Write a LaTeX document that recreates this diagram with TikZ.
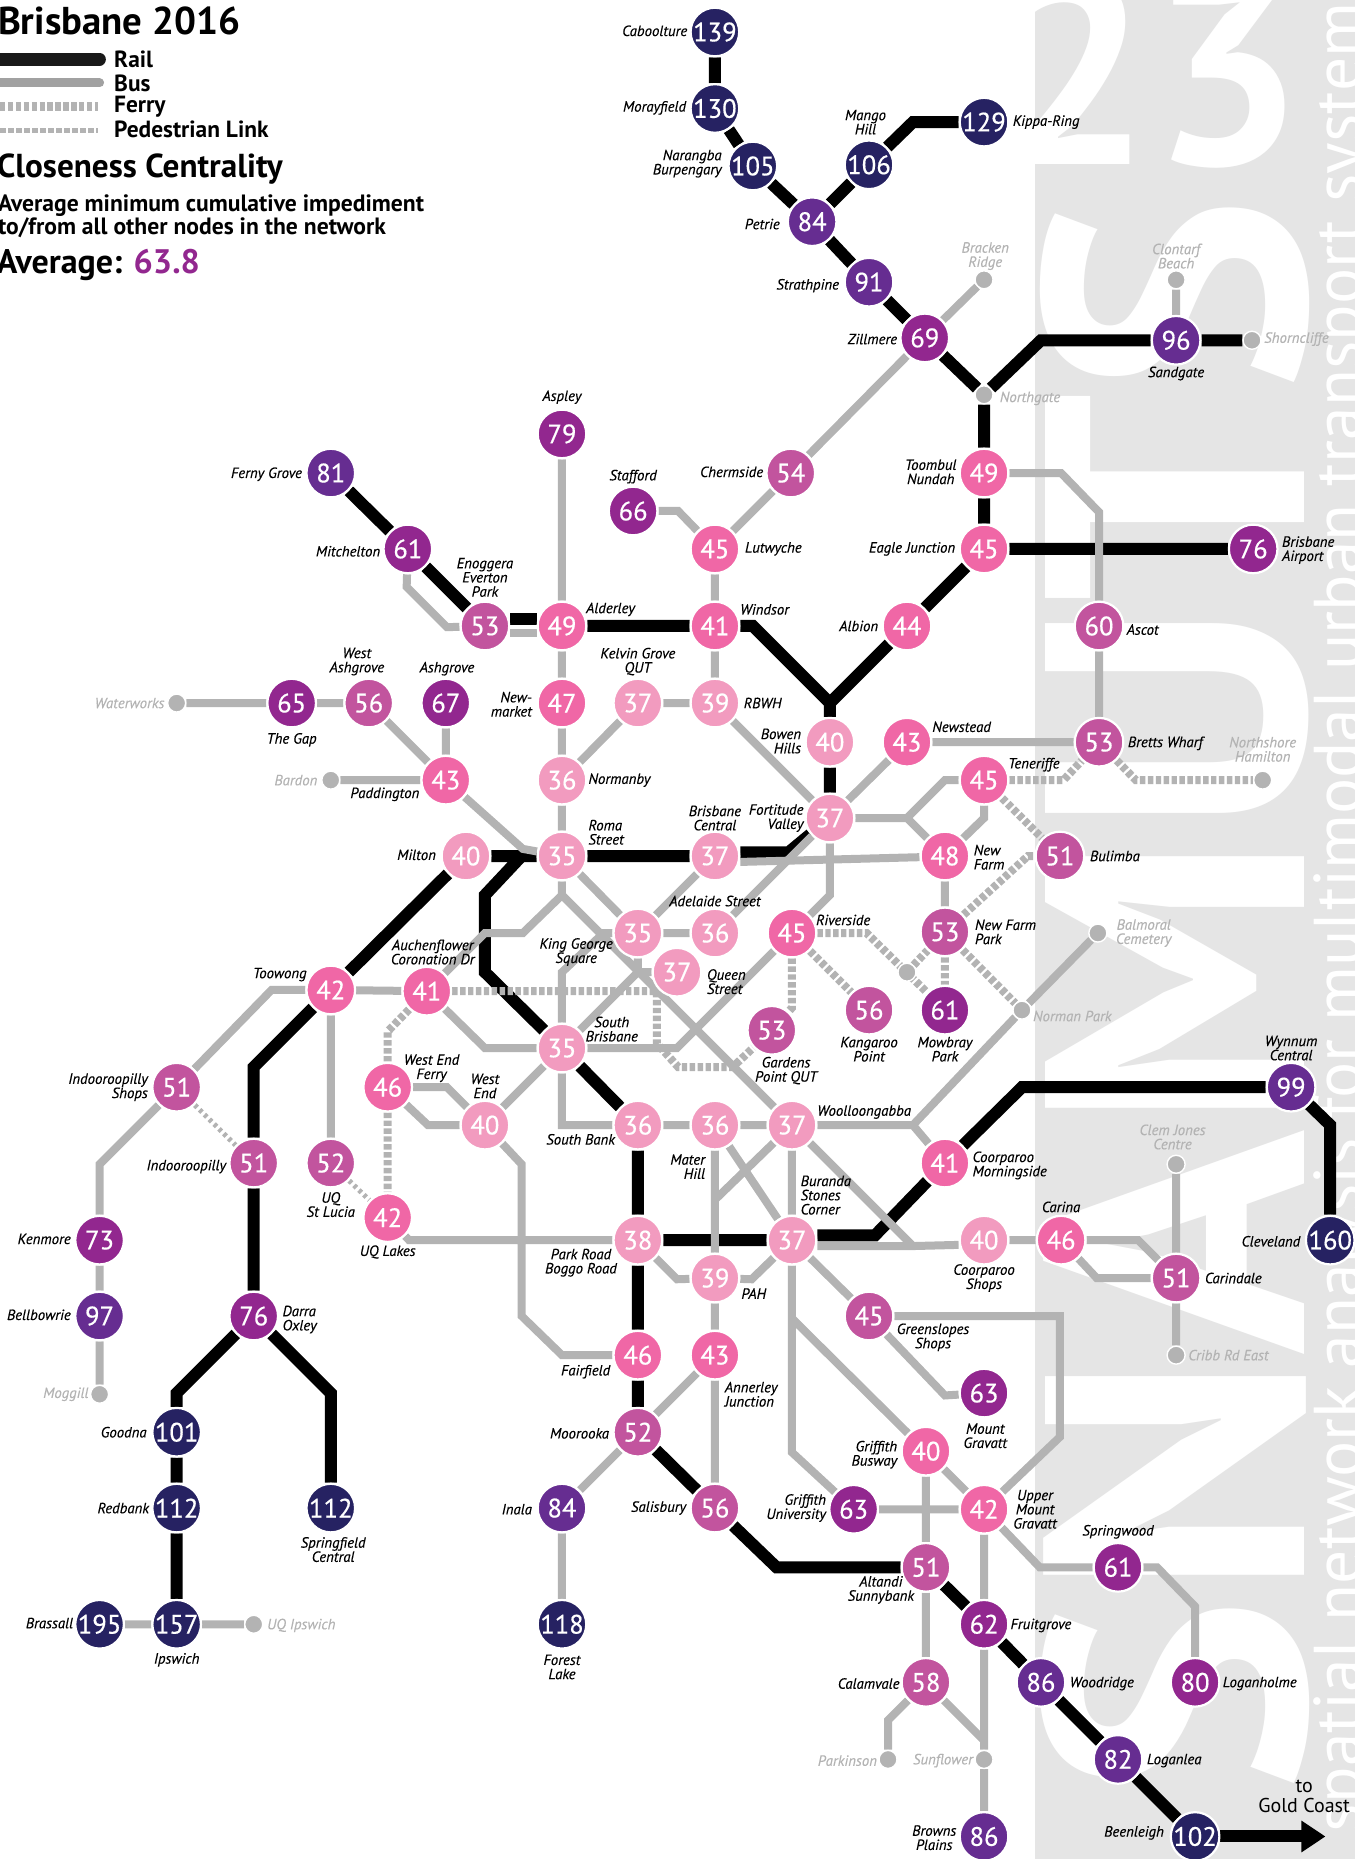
\documentclass[tikz,border=0pt]{standalone}
\usepackage{fontspec}
\setmainfont{PT Sans}
\newfontfamily\semif{PT Sans}[FakeBold=0.5]
\newfontfamily\lblf{PT Sans Italic}[FakeBold=0.2]
\usetikzlibrary{arrows.meta}
\definecolor{cL}{HTML}{F29BBF}
\definecolor{cH}{HTML}{F067A6}
\definecolor{cM}{HTML}{C2549E}
\definecolor{cP}{HTML}{92278F}
\definecolor{cV}{HTML}{662D91}
\definecolor{cD}{HTML}{262262}
\definecolor{busg}{HTML}{B3B3B3}
\definecolor{panel}{HTML}{E5E5E5}
\definecolor{avg}{HTML}{92278F}
\pgfdeclarelayer{backlay}\pgfdeclarelayer{raillay}\pgfdeclarelayer{buslay}\pgfdeclarelayer{ferrylay}
\pgfsetlayers{backlay,raillay,buslay,ferrylay,main}
\tikzset{
 stn/.style={circle,minimum size=24.3pt,inner sep=0pt,draw=white,line width=1.1pt,text=white,font=\fontsize{13.3}{12}\semif},
 stopdot/.style={circle,minimum size=9pt,inner sep=0pt,draw=white,line width=.7pt,fill=busg},
 lbl/.style={inner sep=0pt,font=\fontsize{7.4}{7.1}\lblf,align=center,text=black},
 ghost/.style={lbl,text=busg},
 leg/.style={inner sep=0pt,anchor=west,font=\fontsize{11.7}{10}\selectfont\bfseries},
 railln/.style={draw=black,line width=6pt},
 busln/.style={draw=busg,line width=4pt},
 ferryln/.style={draw=busg,line width=4pt,dash pattern=on 2.7pt off 1.25pt},
 pedln/.style={draw=busg,line width=2.5pt,dash pattern=on 1.7pt off 1.7pt},
}
\newcount\lbn
\newcommand{\lb}[4]{\global\advance\lbn by 1 \node[lbl,anchor=#1] (lb\the\lbn) at (#2,#3) {#4};}
\newcommand{\gh}[4]{\global\advance\lbn by 1 \node[ghost,anchor=#1] (lb\the\lbn) at (#2,#3) {#4};}
\newcommand{\stnn}[5]{\node[stn,fill=c#5] (#1) at (#2,#3) {#4};}
\newcommand{\mstop}[3]{\node[stopdot] (#1) at (#2,#3) {};}
\begin{document}
\begin{tikzpicture}[x=0.59275pt,y=-0.59275pt]
\useasboundingbox (0,0) rectangle (1143,1568);
% background panel
\begin{pgfonlayer}{backlay}
\fill[panel] (873,0) rectangle (1143,1568);
\node[inner sep=0pt,rotate=90,anchor=base east,text=white,font=\fontsize{185}{185}\selectfont\bfseries] (bigname) at (1100,165) {SNAMUTS};
\node[inner sep=0pt,anchor=base east,text=white,font=\fontsize{135}{135}\selectfont\bfseries] (bignum) at (1100,139) {23};
\node[inner sep=0pt,rotate=90,anchor=base east,text=white,font=\fontsize{33.8}{33.8}\selectfont] (strap) at (1148,-22) {spatial network analysis for multimodal urban transport systems};
\end{pgfonlayer}
% stations
\stnn{cab}{603}{27}{139}{D}
\stnn{mor}{603}{91.5}{130}{D}
\stnn{nar}{635}{140}{105}{D}
\stnn{man}{733}{139}{106}{D}
\stnn{kip}{830}{103}{129}{D}
\stnn{pet}{685}{187}{84}{V}
\stnn{str}{733}{238}{91}{V}
\stnn{zil}{780}{285}{69}{P}
\stnn{san}{992}{287}{96}{V}
\stnn{toom}{830}{399}{49}{H}
\stnn{eag}{830}{463}{45}{H}
\stnn{air}{1057}{463}{76}{P}
\stnn{asc}{927}{528}{60}{M}
\stnn{alb}{765}{528}{44}{H}
\stnn{cher}{667}{399}{54}{M}
\stnn{lut}{603}{463}{45}{H}
\stnn{sta}{534}{431}{66}{P}
\stnn{asp}{474}{366}{79}{P}
\stnn{fer}{279}{399}{81}{V}
\stnn{mit}{344}{463}{61}{P}
\stnn{eno}{409}{528}{53}{M}
\stnn{ald}{474}{528}{49}{H}
\stnn{win}{603}{528}{41}{H}
\stnn{nwm}{474}{593}{47}{H}
\stnn{kel}{538}{593}{37}{L}
\stnn{rbw}{603}{593}{39}{L}
\stnn{gap}{246}{593}{65}{P}
\stnn{wash}{311}{593}{56}{M}
\stnn{ash}{376}{593}{67}{P}
\stnn{pad}{376}{658}{43}{H}
\stnn{nor}{474}{658}{36}{L}
\stnn{bow}{700}{626}{40}{L}
\stnn{nws}{765}{626}{43}{H}
\stnn{bre}{927}{626}{53}{M}
\stnn{ten}{830}{658}{45}{H}
\stnn{fort}{700}{690}{37}{L}
\stnn{mil}{393}{722}{40}{L}
\stnn{rom}{474}{722}{35}{L}
\stnn{bri}{603}{722}{37}{L}
\stnn{nfm}{797}{722}{48}{H}
\stnn{bul}{894}{722}{51}{M}
\stnn{ade}{538}{787}{35}{L}
\stnn{adb}{603}{787}{36}{L}
\stnn{riv}{668}{787}{45}{H}
\stnn{nfp}{797}{786}{53}{M}
\stnn{que}{571}{820}{37}{L}
\stnn{kan}{733}{852}{56}{M}
\stnn{mow}{797}{852}{61}{P}
\stnn{too}{279}{835}{42}{H}
\stnn{auc}{360}{836}{41}{H}
\stnn{gar}{651}{869}{53}{M}
\stnn{sbr}{474}{884}{35}{L}
\stnn{ins}{149}{917}{51}{M}
\stnn{wef}{327}{917}{46}{H}
\stnn{wen}{409}{949}{40}{L}
\stnn{sba}{538}{949}{36}{L}
\stnn{mat}{603}{949}{36}{L}
\stnn{woo}{668}{949}{37}{L}
\stnn{wyn}{1089}{917}{99}{V}
\stnn{coo}{797}{981}{41}{H}
\stnn{ind}{214}{981}{51}{M}
\stnn{stl}{279}{981}{52}{M}
\stnn{uql}{327}{1027}{42}{H}
\stnn{ken}{84}{1046}{73}{P}
\stnn{par}{538}{1046}{38}{L}
\stnn{bur}{668}{1046}{37}{L}
\stnn{csh}{830}{1046}{40}{L}
\stnn{car}{895}{1046}{46}{H}
\stnn{cle}{1122}{1046}{160}{D}
\stnn{crd}{992}{1078}{51}{M}
\stnn{bel}{84}{1110}{97}{V}
\stnn{dar}{214}{1110}{76}{P}
\stnn{pah}{603}{1078}{39}{L}
\stnn{gre}{733}{1110}{45}{M}
\stnn{fai}{538}{1143}{46}{H}
\stnn{ann}{603}{1143}{43}{H}
\stnn{mgr}{830}{1175}{63}{P}
\stnn{moo}{538}{1208}{52}{M}
\stnn{gob}{781}{1224}{40}{H}
\stnn{goo}{149}{1208}{101}{D}
\stnn{red}{149}{1272}{112}{D}
\stnn{spc}{279}{1272}{112}{D}
\stnn{ina}{474}{1272}{84}{V}
\stnn{sal}{603}{1272}{56}{M}
\stnn{gun}{720}{1273}{63}{P}
\stnn{umg}{830}{1273}{42}{H}
\stnn{spr}{943}{1322}{61}{P}
\stnn{alt}{781}{1322}{51}{M}
\stnn{fru}{830}{1370}{62}{P}
\stnn{ips}{149}{1370}{157}{D}
\stnn{bra}{84}{1370}{195}{D}
\stnn{fol}{474}{1370}{118}{D}
\stnn{cal}{781}{1419}{58}{M}
\stnn{wod}{878}{1419}{86}{V}
\stnn{lgh}{1008}{1419}{80}{P}
\stnn{lga}{943}{1484}{82}{V}
\stnn{bro}{830}{1549}{86}{V}
\stnn{bee}{1008}{1549}{102}{D}
% minor stops
\mstop{sbrk}{830}{236}
\mstop{sclo}{992}{236}
\mstop{snrg}{830}{333}
\mstop{ssho}{1056}{287}
\mstop{swat}{149}{593}
\mstop{sbar}{279}{658}
\mstop{sbal}{926}{787}
\mstop{snpk}{862}{852}
\mstop{snth}{1065}{658}
\mstop{scle}{992}{982}
\mstop{scri}{992}{1143}
\mstop{smog}{84}{1176}
\mstop{suqi}{214}{1370}
\mstop{spkn}{749}{1484}
\mstop{ssun}{830}{1484}
\mstop{srvj}{765}{820}
% rail
\begin{pgfonlayer}{raillay}
\path[railln] (cab)--(mor) (mor)--(nar) (nar)--(pet) (pet)--(man) (man)--(770,103)--(kip)
 (pet)--(str) (str)--(zil) (zil)--(snrg) (snrg)--(878,287)--(san) (san)--(ssho) (snrg)--(toom) (toom)--(eag) (eag)--(air) (eag)--(alb)
 (alb)--(700,593) (win)--(635,528)--(700,593)--(bow) (bow)--(fort) (rom)--(bri)
 (rom)--(mil) (rom)--(440,722)--(409,755)--(409,820)--(sbr) (mil)--(too) (too)--(214,900)--(ind) (ind)--(dar)
 (dar)--(149,1175)--(goo) (goo)--(red) (red)--(ips) (dar)--(279,1175)--(spc)
 (ald)--(win) (fer)--(mit) (mit)--(eno)
 (sbr)--(sba) (sba)--(par) (par)--(bur) (coo)--(862,917)--(wyn) (wyn)--(1122,949)--(cle)
 (par)--(fai) (fai)--(moo) (moo)--(sal) (sal)--(655,1322)--(alt) (alt)--(fru) (fru)--(wod) (wod)--(lga) (lga)--(bee);
\draw[railln] (eno.east |- 0,522)--(ald.west |- 0,522);
\draw[railln] (bri.east |- 0,719)--(665,719)--(fort);
\draw[railln] (bur.east |- 0,1042)--(738,1042)--(coo);
\coordinate (arrowend) at (1118,1549);
\draw[draw=black,line width=6pt,-{Triangle[length=12pt,width=15pt]}] (bee)--(arrowend);
\end{pgfonlayer}
% bus
\begin{pgfonlayer}{buslay}
\path[busln] (zil)--(sbrk) (zil)--(cher) (cher)--(lut) (lut)--(win) (sta)--(572,431)--(lut) (win)--(rbw) (rbw)--(kel) (kel)--(nor)
 (asp)--(ald) (ald)--(nwm) (nwm)--(nor) (nor)--(rom) (mit)--(343,495)--(377,529)--(eno)
 (toom)--(895,399)--(927,432)--(asc) (asc)--(bre) (bre)--(nws) (nws)--(fort) (fort)--(765,690)--(797,658)--(ten) (765,690)--(nfm) (ten)--(830,690)--(nfm)
 (fort)--(adb) (adb)--(ade) (bri)--(ade) (fort)--(700,755)--(riv) (rbw)--(fort)
 (pad)--(441,716)--(rom) (rom)--(ade) (rom)--(474,755)--(441,787)--(409,787)--(auc) (474,755)--(woo)
 (ade)--(509,787)--(474,820)--(sbr) (sbr)--(538,820)--(que) (538,820)--(ade) (sbr)--(571,884)--(riv)
 (auc)--(409,884)--(sbr) (too)--(auc) (too)--(229,835)--(ins) (ins)--(84,982)--(ken) (ken)--(bel) (bel)--(smog) (too)--(stl)
 (uql)--(345,1046)--(par) (wef)--(377,917)--(wen) (wef)--(361,949)--(wen) (sbr)--(wen) (sbr)--(474,949)--(sba)
 (wen)--(440,982)--(440,1110)--(474,1143)--(fai) (sba)--(mat) (mat)--(woo) (woo)--(bur) (woo)--(770,1051)
 (csh)--(car) (car)--(960,1046)--(crd) (car)--(925,1078)--(crd) (crd)--(scle) (crd)--(scri)
 (mat)--(pah) (woo)--(603,1012) (mat)--(bur) (par)--(571,1079)--(pah) (bur)--(634,1079)--(pah) (pah)--(ann) (ann)--(moo) (ann)--(sal) (moo)--(ina) (ina)--(fol)
 (bur)--(gre) (gre)--(797,1177)--(mgr) (gre)--(894,1110)--(894,1212)--(umg) (bur)--(668,1225)--(gun) (668,1112)--(gob)
 (gun)--(umg) (gob)--(umg) (gob)--(alt) (umg)--(fru) (umg)--(877,1322)--(spr) (spr)--(976,1322)--(1008,1355)--(lgh) (alt)--(cal) (cal)--(830,1468)--(ssun) (fru)--(ssun) (ssun)--(bro) (cal)--(749,1451)--(spkn)
 (ips)--(bra) (ips)--(suqi) (wash)--(gap) (gap)--(swat) (wash)--(pad) (ash)--(pad) (pad)--(sbar) (nfm)--(nfp)
 (woo)--(770,949)--(snpk) (770,949)--(coo) (snpk)--(sbal) (san)--(sclo);
\draw[busln] (eno.east |- 0,534)--(ald.west |- 0,534);
\draw[busln] (bri.east |- 0,727)--(nfm.west |- 0,723);
\draw[busln] (bur.east |- 0,1051)--(770,1051)--(csh.west |- 0,1050);
\end{pgfonlayer}
% ferry
\begin{pgfonlayer}{ferrylay}
\path[ferryln] (auc)--(554,836)--(554,880)--(572,900)--(618,900)--(gar) (auc)--(327,870)--(wef) (wef)--(uql)
 (riv)--(731,787)--(mow) (srvj)--(nfp) (riv)--(kan) (riv)--(668,850)--(gar) (nfp)--(mow) (nfp)--(snpk) (nfp)--(867,722)--(bul) (ten)--(bul)
 (ten)--(897,658)--(bre) (bre)--(958,658)--(snth);
\path[pedln] (ins)--(ind) (stl)--(uql);
\end{pgfonlayer}
% labels
\lb{east}{580}{26}{Caboolture}
\lb{east}{579}{91}{Morayfield}
\node[lbl,anchor=east,align=right] (l1) at (609,138) {Narangba\\Burpengary};
\lb{center}{730}{103}{Mango\\Hill}
\lb{west}{854}{103}{Kippa-Ring}
\lb{east}{658}{189}{Petrie}
\lb{east}{708}{241}{Strathpine}
\gh{center}{831}{216}{Bracken\\Ridge}
\gh{center}{992}{216}{Clontarf\\Beach}
\lb{east}{757}{286}{Zillmere}
\gh{west}{1066}{286}{Shorncliffe}
\lb{center}{992}{315}{Sandgate}
\gh{west}{843}{336}{Northgate}
\lb{center}{474}{335}{Aspley}
\lb{center}{534}{402}{Stafford}
\lb{east}{644}{398}{Chermside}
\lb{center}{785}{398}{Toombul\\Nundah}
\lb{east}{255}{400}{Ferny Grove}
\lb{east}{321}{465}{Mitchelton}
\lb{west}{628}{463}{Lutwyche}
\lb{east}{806}{463}{Eagle Junction}
\node[lbl,anchor=west,align=left] (l2) at (1081,464) {Brisbane\\Airport};
\lb{center}{409}{487}{Enoggera\\Everton\\Park}
\lb{west}{494}{514}{Alderley}
\lb{west}{624}{514}{Windsor}
\lb{east}{741}{528}{Albion}
\lb{west}{950}{531}{Ascot}
\lb{center}{538}{558}{Kelvin Grove\\QUT}
\lb{center}{301}{558}{West\\Ashgrove}
\lb{center}{377}{564}{Ashgrove}
\gh{east}{139}{593}{Waterworks}
\node[lbl,anchor=east,align=right] (l3) at (449,594) {New-\\market};
\lb{west}{627}{593}{RBWH}
\lb{center}{246}{624}{The Gap}
\node[lbl,anchor=east,align=right] (l4) at (676,625) {Bowen\\Hills};
\lb{west}{786}{613}{Newstead}
\lb{west}{951}{627}{Bretts Wharf}
\gh{center}{1065}{632}{Northshore\\Hamilton}
\gh{east}{268}{658}{Bardon}
\lb{west}{850}{645}{Teneriffe}
\lb{east}{354}{670}{Paddington}
\lb{west}{496}{658}{Normanby}
\node[lbl,anchor=west,align=left] (l5) at (496,702) {Roma\\Street};
\lb{center}{603}{690}{Brisbane\\Central}
\node[lbl,anchor=east,align=right] (l6) at (678,690) {Fortitude\\Valley};
\lb{east}{368}{721}{Milton}
\node[lbl,anchor=west,align=left] (l7) at (821,723) {New\\Farm};
\lb{west}{919}{722}{Bulimba}
\lb{center}{603}{760}{Adelaide Street}
\lb{west}{688}{776}{Riverside}
\node[lbl,anchor=west,align=left] (l8) at (822,786) {New Farm\\Park};
\gh{west}{941}{787}{Balmoral\\Cemetery}
\lb{center}{365}{803}{Auchenflower\\Coronation Dr}
\lb{center}{486}{803}{King George\\Square}
\node[lbl,anchor=west,align=left] (l9) at (596,828) {Queen\\Street};
\lb{center}{236}{822}{Toowong}
\lb{center}{733}{885}{Kangaroo\\Point}
\lb{center}{797}{885}{Mowbray\\Park}
\gh{west}{871}{857}{Norman Park}
\lb{center}{516}{868}{South\\Brisbane}
\lb{center}{663}{903}{Gardens\\Point QUT}
\lb{center}{1089}{884}{Wynnum\\Central}
\node[lbl,anchor=east,align=right] (l10) at (125,917) {Indooroopilly\\Shops};
\lb{center}{364}{901}{West End\\Ferry}
\lb{center}{409}{916}{West\\End}
\lb{west}{689}{938}{Woolloongabba}
\gh{center}{989}{959}{Clem Jones\\Centre}
\lb{east}{519}{961}{South Bank}
\lb{east}{191}{984}{Indooroopilly}
\node[lbl,anchor=east,align=right] (l11) at (595,984) {Mater\\Hill};
\node[lbl,anchor=west,align=left] (l12) at (820,983) {Coorparoo\\Morningside};
\node[lbl,anchor=west,align=left] (l13) at (675,1008) {Buranda\\Stones\\Corner};
\lb{center}{279}{1016}{UQ\\St Lucia}
\lb{center}{895}{1018}{Carina}
\lb{east}{60}{1045}{Kenmore}
\lb{center}{327}{1056}{UQ Lakes}
\lb{east}{1097}{1047}{Cleveland}
\lb{center}{490}{1065}{Park Road\\Boggo Road}
\lb{center}{830}{1078}{Coorparoo\\Shops}
\lb{west}{1016}{1078}{Carindale}
\lb{west}{625}{1091}{PAH}
\lb{east}{60}{1109}{Bellbowrie}
\node[lbl,anchor=west,align=left] (l14) at (238,1113) {Darra\\Oxley};
\lb{center}{787}{1128}{Greenslopes\\Shops}
\gh{west}{1002}{1143}{Cribb Rd East}
\lb{east}{515}{1157}{Fairfield}
\node[lbl,anchor=west,align=left] (l15) at (611,1176) {Annerley\\Junction};
\gh{east}{75}{1176}{Moggill}
\lb{center}{831}{1211}{Mount\\Gravatt}
\lb{east}{514}{1209}{Moorooka}
\lb{east}{124}{1208}{Goodna}
\node[lbl,anchor=east,align=right] (l16) at (757,1227) {Griffith\\Busway};
\node[lbl,anchor=east,align=right] (l17) at (697,1272) {Griffith\\University};
\lb{center}{873}{1273}{Upper\\Mount\\Gravatt}
\lb{east}{579}{1272}{Salisbury}
\lb{east}{449}{1273}{Inala}
\lb{east}{126}{1272}{Redbank}
\lb{center}{943}{1292}{Springwood}
\lb{center}{281}{1307}{Springfield\\Central}
\lb{center}{743}{1341}{Altandi\\Sunnybank}
\lb{west}{852}{1371}{Fruitgrove}
\lb{east}{62}{1369}{Brassall}
\gh{west}{225}{1371}{UQ Ipswich}
\lb{center}{149}{1400}{Ipswich}
\lb{center}{474}{1406}{Forest\\Lake}
\lb{west}{902}{1420}{Woodridge}
\lb{east}{759}{1420}{Calamvale}
\lb{west}{1031}{1420}{Loganholme}
\gh{east}{740}{1485}{Parkinson}
\gh{east}{821}{1485}{Sunflower}
\lb{west}{967}{1485}{Loganlea}
\lb{center}{788}{1550}{Browns\\Plains}
\lb{east}{982}{1546}{Beenleigh}
\node[inner sep=0pt,align=center,font=\fontsize{10}{10}\selectfont] (goldc) at (1100,1515) {to\\Gold Coast};
% legend
\node[inner sep=0pt,anchor=base west,font=\fontsize{19.4}{18}\selectfont\bfseries] (title) at (-2,29) {Brisbane 2016};
\coordinate (lra) at (-5,50);\coordinate (lrb) at (84,50);
\coordinate (lba) at (-5,70);\coordinate (lbb) at (84,70);
\coordinate (lfa) at (0,90);\coordinate (lfb) at (83,90);
\coordinate (lpa) at (0,110);\coordinate (lpb) at (83,110);
\draw[draw=black!90,line width=6.3pt,line cap=round] (lra)--(lrb);
\draw[draw=busg!90!black,line width=4.5pt,line cap=round] (lba)--(lbb);
\draw[ferryln,line width=4.6pt] (lfa)--(lfb);
\draw[pedln,line width=2.8pt,dash pattern=on 2.8pt off 1.2pt] (lpa)--(lpb);
\node[leg] (t1) at (96,50) {Rail};
\node[leg] (t2) at (96,70) {Bus};
\node[leg] (t3) at (96,90) {Ferry};
\node[leg] (t4) at (96,109) {Pedestrian Link};
\node[inner sep=0pt,anchor=base west,font=\fontsize{16.6}{14}\selectfont\bfseries] (t5) at (-3,150) {Closeness Centrality};
\node[inner sep=0pt,anchor=base west,font=\fontsize{11.8}{10}\selectfont\bfseries] (t6) at (-2,178) {Average minimum cumulative impediment};
\node[inner sep=0pt,anchor=base west,font=\fontsize{11.8}{10}\selectfont\bfseries] (t7) at (-2,198) {to/from all other nodes in the network};
\node[inner sep=0pt,anchor=base west,font=\fontsize{17}{16}\selectfont\bfseries] (t8) at (-3,231) {Average: \textcolor{avg}{63.8}};
\end{tikzpicture}
\end{document}
